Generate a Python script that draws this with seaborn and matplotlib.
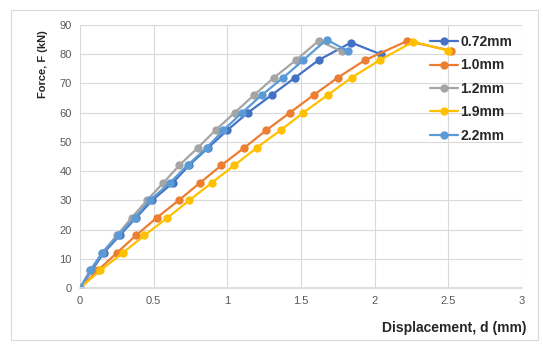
import matplotlib
matplotlib.use("Agg")
import matplotlib.pyplot as plt
import seaborn as sns
import pandas as pd
from matplotlib.patches import Rectangle

# displacement (mm) and force (kN)
d_072 = [0, 0.08, 0.16, 0.27, 0.38, 0.49, 0.63, 0.74, 0.87, 1.0, 1.14, 1.30, 1.46, 1.62, 1.84, 2.04]
f_072 = [0, 6, 12, 18, 24, 30, 36, 42, 48, 54, 60, 66, 72, 78, 84, 80]

d_10 = [0, 0.12, 0.25, 0.38, 0.52, 0.67, 0.815, 0.96, 1.115, 1.265, 1.425, 1.585, 1.75, 1.935, 2.22, 2.52]
f_10 = [0, 6, 12, 18, 24, 30, 36, 42, 48, 54, 60, 66, 72, 78, 84.5, 81.2]

d_12 = [0, 0.07, 0.15, 0.25, 0.35, 0.455, 0.566, 0.674, 0.80, 0.92, 1.05, 1.18, 1.317, 1.466, 1.62, 1.776]
f_12 = [0, 6, 12, 18, 24, 30, 36, 42, 48, 54, 60, 66, 72, 78, 84.6, 81]

d_19 = [0, 0.138, 0.29, 0.437, 0.593, 0.742, 0.894, 1.048, 1.2, 1.362, 1.516, 1.68, 1.844, 2.035, 2.263, 2.5]
f_19 = [0, 6, 12, 18, 24, 30, 36, 42, 48, 54, 60, 66, 72, 78, 84.3, 81.2]

d_22 = [0, 0.07, 0.15, 0.26, 0.37, 0.475, 0.61, 0.73, 0.86, 0.973, 1.1, 1.233, 1.38, 1.516, 1.674, 1.82]
f_22 = [0, 6, 12, 18, 24, 30, 36, 42, 48, 54, 60, 66, 72, 78, 85, 81]

labels = ["0.72mm", "1.0mm", "1.2mm", "1.9mm", "2.2mm"]
colors = ["#4472C4", "#ED7D31", "#A5A5A5", "#FFC000", "#5B9BD5"]

series = [(d_072, f_072), (d_10, f_10), (d_12, f_12), (d_19, f_19), (d_22, f_22)]
frames = []
for lab, (d, f) in zip(labels, series):
    frames.append(pd.DataFrame({"d": d, "F": f, "Thickness": lab}))
data = pd.concat(frames, ignore_index=True)

sns.set_theme(style="white")
plt.rcParams["font.family"] = ["Liberation Sans", "DejaVu Sans"]

fig = plt.figure(figsize=(5.43, 3.47), dpi=100)
ax = fig.add_axes([80 / 543, 1 - 288 / 347, 442 / 543, 263 / 347])

sns.lineplot(data=data, x="d", y="F", hue="Thickness", palette=colors,
             hue_order=labels, sort=False, estimator=None, marker="o",
             markersize=6, markeredgewidth=0, linewidth=1.6, ax=ax)

ax.set_xlim(0, 3)
ax.set_ylim(0, 90)
ax.set_xticks([0, 0.5, 1, 1.5, 2, 2.5, 3])
ax.set_xticklabels(["0", "0.5", "1", "1.5", "2", "2.5", "3"])
ax.set_yticks(range(0, 91, 10))
ax.grid(True, color="#D9D9D9", linewidth=0.8)
ax.set_axisbelow(True)
for side in ["left", "top", "right"]:
    ax.spines[side].set_visible(False)
ax.spines["bottom"].set_color("#D9D9D9")
ax.tick_params(axis="both", length=0, labelsize=8, labelcolor="#595959", pad=6)

ax.set_xlabel("")
ax.set_ylabel("")
fig.text(526 / 543, 1 - 328 / 347, "Displacement, d (mm)", ha="right", va="center",
         fontsize=10, fontweight="bold", color="#262626")
fig.text(43 / 543, 1 - 64 / 347, "Force, F (kN)", ha="center", va="center",
         rotation=90, fontsize=8, fontweight="bold", color="#262626")

leg = ax.legend(loc="upper left", bbox_to_anchor=(430 / 543, 1 - 35 / 347),
                bbox_transform=fig.transFigure, frameon=False, fontsize=10,
                handlelength=2.0, handletextpad=0.2, labelspacing=0.68,
                borderaxespad=0, borderpad=0)
for t in leg.get_texts():
    t.set_fontweight("bold")
    t.set_color("#262626")

fig.patches.append(Rectangle((11 / 543, 1 - 340 / 347), 527 / 543, 330 / 347,
                             transform=fig.transFigure, fill=False,
                             edgecolor="#D9D9D9", linewidth=0.8))

fig.savefig("out.png", dpi=100)
